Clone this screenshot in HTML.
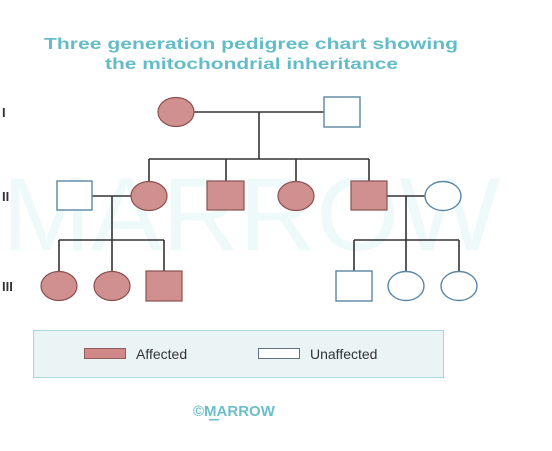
<!DOCTYPE html>
<html><head><style>body{margin:0;background:#fff}svg{display:block}</style></head><body>
<svg width="552" height="451" xmlns="http://www.w3.org/2000/svg" font-family="Liberation Sans, sans-serif">
<text x="2" y="250" font-size="104" fill="#eef9fa" textLength="498" lengthAdjust="spacingAndGlyphs">MARROW</text>
<text x="44" y="49" font-size="16" font-weight="bold" fill="#64bcc8" textLength="414" lengthAdjust="spacingAndGlyphs">Three generation pedigree chart showing</text>
<text x="105" y="69" font-size="16" font-weight="bold" fill="#64bcc8" textLength="293" lengthAdjust="spacingAndGlyphs">the mitochondrial inheritance</text>
<g font-size="13" font-weight="bold" fill="#333">
<text x="2" y="117">I</text><text x="2" y="201">II</text><text x="2" y="291">III</text></g>
<g stroke="#333" stroke-width="1.6" fill="none">
<path d="M194 112H324M259 112V159M149 159H369M149 159V182M226 159V181M296 159V182M369 159V181"/>
<path d="M92 196H131M112 196V240M59 240H164M59 240V272M112 240V272M164 240V271"/>
<path d="M387 196H425M406 196V272M354 240H459M354 240V271M459 240V272"/>
</g>
<g fill="#d09090" stroke="#8a5050" stroke-width="1.2">
<ellipse cx="176" cy="112" rx="18" ry="14.5"/>
<ellipse cx="149" cy="196" rx="18" ry="14.5"/>
<rect x="207" y="181" width="37" height="29"/>
<ellipse cx="296" cy="196" rx="18" ry="14.5"/>
<rect x="351" y="181" width="36" height="29"/>
<ellipse cx="59" cy="286" rx="18" ry="14.5"/>
<ellipse cx="112" cy="286" rx="18" ry="14.5"/>
<rect x="146" y="271" width="36" height="30"/>
</g>
<g fill="#fff" stroke="#5a86a6" stroke-width="1.4">
<rect x="324" y="97" width="36" height="30"/>
<rect x="57" y="181" width="35" height="29"/>
<ellipse cx="443" cy="196" rx="18" ry="14.5"/>
<rect x="336" y="271" width="36" height="30"/>
<ellipse cx="406" cy="286" rx="18" ry="14.5"/>
<ellipse cx="459" cy="286" rx="18" ry="14.5"/>
</g>
<rect x="33.5" y="330.5" width="410" height="47" fill="#eaf4f4" stroke="#a8d8dc"/>
<rect x="84.5" y="348.5" width="41" height="10" fill="#d08888" stroke="#906060"/>
<text x="136" y="359" font-size="14" fill="#333">Affected</text>
<rect x="258.5" y="348.5" width="41" height="10" fill="#fff" stroke="#607080"/>
<text x="310" y="359" font-size="14" fill="#333">Unaffected</text>
<text x="193" y="416" font-size="15" font-weight="bold" fill="#6bbfc8">©MARROW</text>
<rect x="209" y="419" width="10" height="1.5" fill="#6bbfc8"/>
</svg>
</body></html>
